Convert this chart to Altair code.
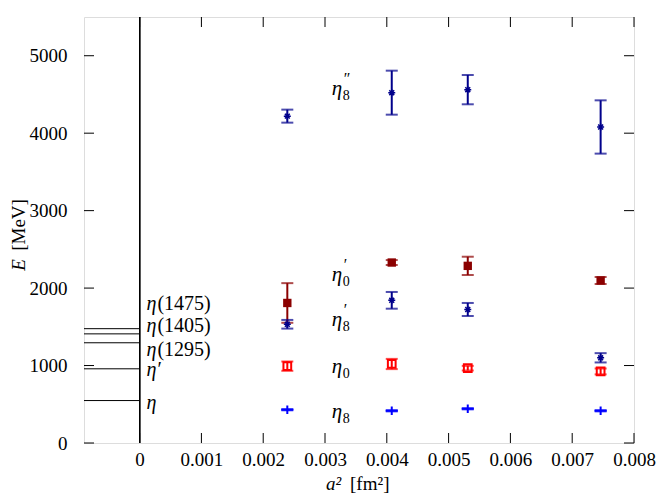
import altair as alt
import pandas as pd

# ---------------- data ----------------
a2 = [0.00239, 0.00408, 0.00531, 0.00746]

eta8 = [430, 416, 442, 416]
eta8_err = [8, 8, 8, 8]
eta0 = [992, 1020, 966, 924]
eta0_err = [60, 66, 30, 38]
eta8p = [1533, 1842, 1724, 1100]
eta8p_err = [56, 108, 84, 60]
eta0p = [1808, 2330, 2287, 2098]
eta0p_err = [256, 32, 118, 45]
eta8pp = [4220, 4523, 4562, 4080]
eta8pp_err = [84, 284, 189, 344]

series_keys = ["eta8", "eta0", "eta8p", "eta0p", "eta8pp"]
series_colors = ["#0000ff", "#ff0000", "#00008b", "#8b0000", "#00008b"]

exp_sym = ["η", "η", "η", "η", "η"]
exp_suffix = ["", "′", "(1295)", "(1405)", "(1475)"]
exp_masses = [548, 958, 1294, 1409, 1476]
exp_label_y = [519, 940, 1198, 1508, 1791]

lab_main = ["η", "η", "η", "η", "η"]
lab_sup = ["", "", "′", "′", "″"]
lab_sub = ["8", "0", "8", "0", "8"]
lab_y = [400, 979, 1585, 2165, 4575]
lab_x = 0.00311

x_ticks = [0, 0.001, 0.002, 0.003, 0.004, 0.005, 0.006, 0.007, 0.008]
y_ticks = [0, 1000, 2000, 3000, 4000, 5000]
x_domain = [-0.0009, 0.008]
y_domain = [0, 5500]

# ---------------- frames ----------------
vals = {"eta8": (eta8, eta8_err), "eta0": (eta0, eta0_err), "eta8p": (eta8p, eta8p_err),
        "eta0p": (eta0p, eta0p_err), "eta8pp": (eta8pp, eta8pp_err)}
rows = []
for k in series_keys:
    v, e = vals[k]
    for xi, vi, ei in zip(a2, v, e):
        rows.append({"series": k, "a2": xi, "E": vi, "lo": vi - ei, "hi": vi + ei})
df = pd.DataFrame(rows)
exp_df = pd.DataFrame({"sym": exp_sym, "suf": exp_suffix, "mass": exp_masses,
                       "ly": exp_label_y, "lx": 0.00011})
lab_df = pd.DataFrame({"main": lab_main, "sup": lab_sup, "sub": lab_sub, "y": lab_y, "x": lab_x})
xt_df = pd.DataFrame({"t": x_ticks})
yt_df = pd.DataFrame({"t": y_ticks})
one = pd.DataFrame({"k": [0]})

W, H = 550, 426
FONT = "'Liberation Serif', 'Times New Roman', serif"
FS = 19

xscale = alt.Scale(domain=x_domain, nice=False, zero=False)
yscale = alt.Scale(domain=y_domain, nice=False)
xaxis = alt.Axis(values=x_ticks, format=".3~f", ticks=False, tickSize=0, domain=False, grid=False,
                 labelOverlap=False, labelFlush=False, labelFont=FONT, labelFontSize=FS,
                 labelColor="#000", labelPadding=7, title="")
yaxis = alt.Axis(values=y_ticks, format="d", ticks=False, tickSize=0, domain=False, grid=False,
                 labelOverlap=False, labelFlush=False, labelFont=FONT, labelFontSize=FS,
                 labelColor="#000", labelPadding=17, title="")

def X(f, **kw):
    return alt.X(f, type="quantitative", scale=xscale, axis=xaxis, **kw)

def Y(f, **kw):
    return alt.Y(f, type="quantitative", scale=yscale, axis=yaxis, **kw)

color = alt.Color("series:N", scale=alt.Scale(domain=series_keys, range=series_colors), legend=None)

base = alt.Chart(df)

vline = alt.Chart(xt_df).mark_rule(color="#000", strokeWidth=1).encode(
    x=alt.X(datum=0, type="quantitative", scale=xscale, axis=xaxis))

exp_rules = alt.Chart(exp_df).mark_rule(color="#000", strokeWidth=1).encode(
    x=alt.X(datum=x_domain[0], type="quantitative", scale=xscale, axis=xaxis),
    x2=alt.X2(datum=0), y=Y("mass"))

exp_sym_t = alt.Chart(exp_df).mark_text(font=FONT, fontSize=20, fontStyle="italic", align="left",
                                        baseline="middle", color="#000").encode(
    x=X("lx"), y=Y("ly"), text="sym:N")
exp_suf_t = alt.Chart(exp_df).mark_text(font=FONT, fontSize=20, align="left", baseline="middle",
                                        color="#000", dx=11).encode(
    x=X("lx"), y=Y("ly"), text="suf:N")

err = base.mark_rule(strokeWidth=2).encode(x=X("a2"), y=Y("lo"), y2="hi", color=color)
cap_lo = base.mark_tick(orient="horizontal", size=12, thickness=2).encode(x=X("a2"), y=Y("lo"), color=color)
cap_hi = base.mark_tick(orient="horizontal", size=12, thickness=2).encode(x=X("a2"), y=Y("hi"), color=color)

star = "M-1,0L1,0M0,-1L0,1M-0.7,-0.7L0.7,0.7M-0.7,0.7L0.7,-0.7"
plus = "M-1,0L1,0M0,-0.7L0,0.7"

p_plus = base.transform_filter(alt.datum.series == "eta8").mark_point(
    shape=plus, size=144, strokeWidth=2, filled=False, opacity=1).encode(x=X("a2"), y=Y("E"), color=color)
p_open = base.transform_filter(alt.datum.series == "eta0").mark_point(
    shape="square", size=60, strokeWidth=2, filled=False, opacity=1).encode(x=X("a2"), y=Y("E"), color=color)
p_fill = base.transform_filter(alt.datum.series == "eta0p").mark_point(
    shape="square", size=70, filled=True, opacity=1).encode(x=X("a2"), y=Y("E"), color=color)
p_star = base.transform_filter((alt.datum.series == "eta8p") | (alt.datum.series == "eta8pp")).mark_point(
    shape=star, size=49, strokeWidth=1.5, filled=False, opacity=1).encode(x=X("a2"), y=Y("E"), color=color)

lab_main_t = alt.Chart(lab_df).mark_text(font=FONT, fontSize=21, fontStyle="italic", align="left",
                                         baseline="middle", color="#000").encode(
    x=X("x"), y=Y("y"), text="main:N")
lab_sup_t = alt.Chart(lab_df).mark_text(font=FONT, fontSize=16, align="left", baseline="middle", color="#000",
                                        dx=12, dy=-10).encode(x=X("x"), y=Y("y"), text="sup:N")
lab_sub_t = alt.Chart(lab_df).mark_text(font=FONT, fontSize=14, align="left", baseline="middle", color="#000",
                                        dx=11, dy=7).encode(x=X("x"), y=Y("y"), text="sub:N")

# axis titles (italic symbol + upright unit)
yt_E = alt.Chart(one).mark_text(font=FONT, fontSize=FS, fontStyle="italic", angle=270, align="center",
                                baseline="middle", color="#000", text="E").encode(
    x=alt.value(-65), y=alt.value(248))
yt_U = alt.Chart(one).mark_text(font=FONT, fontSize=FS, angle=270, align="center",
                                baseline="middle", color="#000", text="[MeV]").encode(
    x=alt.value(-65), y=alt.value(208))
xt_a = alt.Chart(one).mark_text(font=FONT, fontSize=FS, fontStyle="italic", align="left",
                                baseline="middle", color="#000", text="a²").encode(
    x=alt.value(242), y=alt.value(H + 41))
xt_U = alt.Chart(one).mark_text(font=FONT, fontSize=FS, align="left",
                                baseline="middle", color="#000", text="[fm²]").encode(
    x=alt.value(266), y=alt.value(H + 41))

TL = 10
tick_b = alt.Chart(xt_df).mark_rule(color="#000", strokeWidth=1).encode(x=X("t"), y=alt.value(H), y2=alt.value(H - TL))
tick_t = alt.Chart(xt_df).mark_rule(color="#000", strokeWidth=1).encode(x=X("t"), y=alt.value(0), y2=alt.value(TL))
tick_l = alt.Chart(yt_df).mark_rule(color="#000", strokeWidth=1).encode(y=Y("t"), x=alt.value(0), x2=alt.value(TL))
tick_r = alt.Chart(yt_df).mark_rule(color="#000", strokeWidth=1).encode(y=Y("t"), x=alt.value(W - TL), x2=alt.value(W))

chart = alt.layer(
    vline, exp_rules, exp_sym_t, exp_suf_t, err, cap_lo, cap_hi, p_plus, p_open, p_fill, p_star,
    lab_main_t, lab_sup_t, lab_sub_t, yt_E, yt_U, xt_a, xt_U, tick_b, tick_t, tick_l, tick_r
).properties(
    width=W, height=H,
    autosize=alt.AutoSizeParams(type="none"),
    padding={"left": 76, "top": 9, "right": 22, "bottom": 51},
).configure_view(stroke="#000", strokeWidth=1.2).configure(background="white")

chart.save("out.html", embed_options={"renderer": "svg", "actions": False})
